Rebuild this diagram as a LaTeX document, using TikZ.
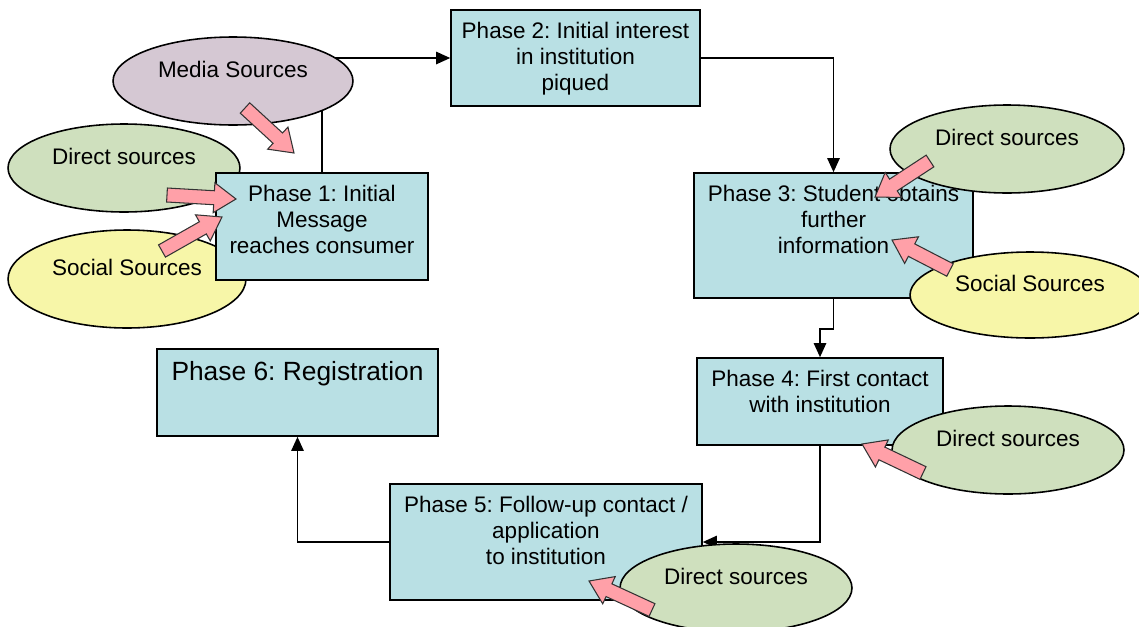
\documentclass[tikz,border=0pt]{standalone}
\usepackage{fontspec}
\setmainfont{Liberation Sans}
\usetikzlibrary{arrows.meta,calc,shapes.geometric}
\definecolor{phasefill}{RGB}{185,224,228}
\definecolor{directgreen}{RGB}{207,224,190}
\definecolor{socialyellow}{RGB}{247,246,168}
\definecolor{mediamauve}{RGB}{213,200,211}
\definecolor{pushpink}{RGB}{255,160,168}
\frenchspacing
% pink block arrow from #1 (tail) to #2 (tip)
\newcommand{\pusharrow}[2]{%
  \coordinate (#1#2) at ($(#2)!0.44cm!(#1)$);
  \draw[push] ($(#1)!0.14cm!90:(#2)$) -- ($(#1#2)!0.14cm!90:(#2)$)
    -- ($(#1#2)!0.3cm!90:(#2)$) -- (#2) -- ($(#1#2)!0.3cm!-90:(#2)$)
    -- ($(#1#2)!0.14cm!-90:(#2)$) -- ($(#1)!0.14cm!-90:(#2)$) -- cycle;}
\begin{document}
\begin{tikzpicture}[x=0.02cm,y=-0.02cm,
    phase/.style={draw,line width=0.9pt,fill=phasefill,inner sep=0pt},
    phasetxt/.style={anchor=north,yshift=-0.25cm,inner sep=0pt,align=center,font=\fontsize{12.8}{14.8}\selectfont},
    source/.style={ellipse,draw,line width=0.9pt,inner sep=0pt},
    srctxt/.style={yshift=0.24cm,inner sep=0pt,font=\fontsize{12.8}{14.8}\selectfont},
    flow/.style={line width=1pt,-{Triangle[length=8pt,width=7pt]}},
    push/.style={draw=black!80,line width=0.6pt,fill=pushpink,line join=miter}]
\useasboundingbox (0,0) rectangle (1139,626);
% sources behind phase 1
\node[source,fill=directgreen,minimum width=4.64cm,minimum height=1.76cm] (dsa) at (124,168) {};
\node[srctxt] (dsat) at (dsa) {Direct sources};
\node[source,fill=socialyellow,minimum width=4.76cm,minimum height=1.96cm] (ssa) at (127,279) {};
\node[srctxt] (ssat) at (ssa) {Social Sources};
% phases
\node[phase,minimum width=4.24cm,minimum height=2.14cm] (p1) at (322,226.5) {};
\node[phasetxt] (p1t) at (p1.north) {Phase 1: Initial\\Message\\reaches consumer};
\node[phase,minimum width=4.98cm,minimum height=1.92cm] (p2) at (575.5,58) {};
\node[phasetxt] (p2t) at (p2.north) {Phase 2: Initial interest\\in institution\\piqued};
\node[phase,minimum width=5.58cm,minimum height=2.5cm] (p3) at (833.5,235.5) {};
\node[phasetxt] (p3t) at (p3.north) {Phase 3: Student obtains\\further\\information};
\node[phase,minimum width=4.92cm,minimum height=1.74cm] (p4) at (820,401.5) {};
\node[phasetxt] (p4t) at (p4.north) {Phase 4: First contact\\with institution};
\node[phase,minimum width=6.24cm,minimum height=2.32cm] (p5) at (546,542) {};
\node[phasetxt] (p5t) at (p5.north) {Phase 5: Follow-up contact /\\application\\to institution};
\node[phase,minimum width=5.62cm,minimum height=1.74cm] (p6) at (297.5,392.5) {};
\node[phasetxt,font=\fontsize{15}{18}\selectfont] (p6t) at (p6.north) {Phase 6: Registration};
% flow between phases
\draw[flow] (p1.north) |- (p2.west);
\draw[flow] (p2.east) -| (p3.north);
\draw[flow] (p3.south) -- ++(0,30) -| (p4.north);
\draw[flow] (p4.south) |- (p5.east);
\draw[flow] (p5.west) -| (p6.south);
% sources in front
\node[source,fill=mediamauve,minimum width=4.8cm,minimum height=1.76cm] (ms) at (233,81) {};
\node[srctxt] (mst) at (ms) {Media Sources};
\node[source,fill=directgreen,minimum width=4.68cm,minimum height=1.76cm] (dsb) at (1007,149) {};
\node[srctxt] (dsbt) at (dsb) {Direct sources};
\node[source,fill=socialyellow,minimum width=4.8cm,minimum height=1.72cm] (ssb) at (1030,295) {};
\node[srctxt] (ssbt) at (ssb) {Social Sources};
\node[source,fill=directgreen,minimum width=4.64cm,minimum height=1.76cm] (dsc) at (1008,450) {};
\node[srctxt] (dsct) at (dsc) {Direct sources};
\node[source,fill=directgreen,minimum width=4.64cm,minimum height=1.76cm] (dsd) at (736,588) {};
\node[srctxt] (dsdt) at (dsd) {Direct sources};
% pink arrows
\coordinate (msT) at (245,108);  \coordinate (msH) at (294,153);
\coordinate (dsaT) at (167,195); \coordinate (dsaH) at (236,199);
\coordinate (ssaT) at (162,251); \coordinate (ssaH) at (222,217);
\coordinate (dsbT) at (930,161); \coordinate (dsbH) at (875,197);
\coordinate (ssbT) at (950,270); \coordinate (ssbH) at (892,240);
\coordinate (dscT) at (923,473); \coordinate (dscH) at (862,444);
\coordinate (dsdT) at (652,610); \coordinate (dsdH) at (589,581);
\pusharrow{msT}{msH}
\pusharrow{dsaT}{dsaH}
\pusharrow{ssaT}{ssaH}
\pusharrow{dsbT}{dsbH}
\pusharrow{ssbT}{ssbH}
\pusharrow{dscT}{dscH}
\pusharrow{dsdT}{dsdH}
\end{tikzpicture}
\end{document}
